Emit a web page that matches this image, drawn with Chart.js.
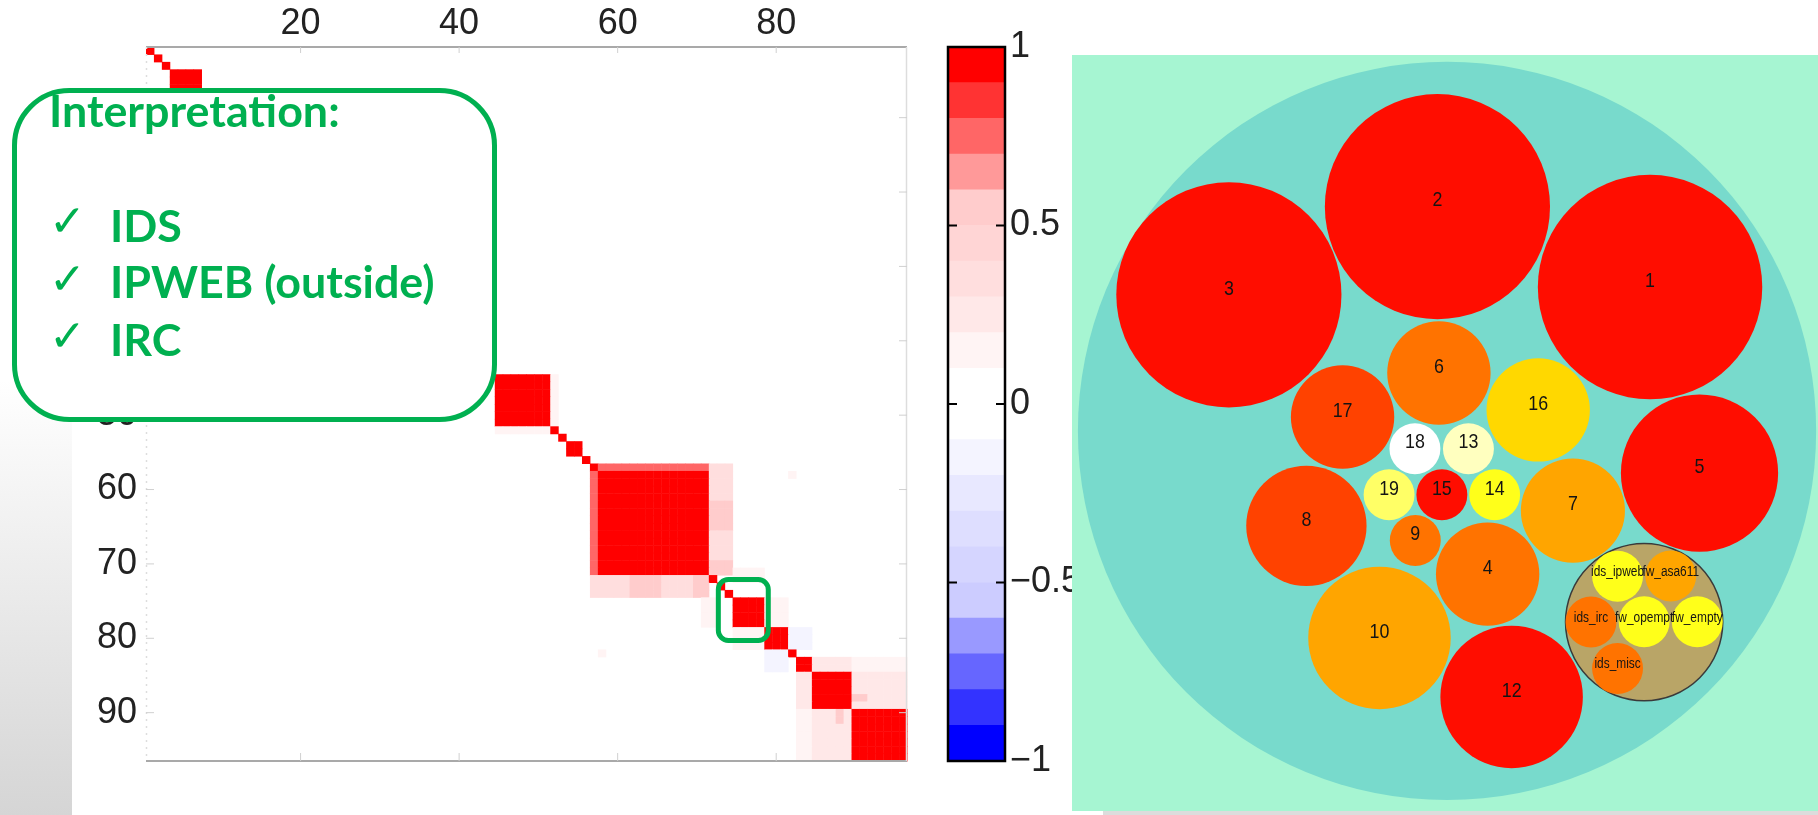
<!DOCTYPE html>
<html>
<head>
<meta charset="utf-8">
<script src="https://cdn.jsdelivr.net/npm/chart.js@4"></script>
<style>
  html, body { margin: 0; padding: 0; background: #ffffff; }
  #page { position: relative; width: 1818px; height: 815px; overflow: hidden; background: #ffffff; }
  #sideShade { position: absolute; left: 0; top: 380px; width: 72px; height: 435px;
               background: linear-gradient(#ffffff, #d5d5d5); }
  #bottomShade { position: absolute; left: 1103px; top: 811px; width: 715px; height: 4px; background: #dcdcdc; }
  canvas { position: absolute; }
  #heat { left: 0; top: 0; }
  #bar { left: 900px; top: 0; }
  #pack { left: 1072px; top: 55px; }
</style>
</head>
<body>
<div id="page">
  <div id="sideShade"></div>
  <div id="bottomShade"></div>
  <canvas id="heat" width="930" height="815"></canvas>
  <canvas id="bar" width="200" height="815"></canvas>
  <canvas id="pack" width="746" height="756"></canvas>
</div>
<script>
// ---------- correlation matrix (96 variables) ----------
const matrixSize = 96;
const xTickValues = [20, 40, 60, 80];
const yTickValues = [10, 20, 30, 40, 50, 60, 70, 80, 90];

// groups of strongly correlated variables along the diagonal: [first, last]
const groupFirst = [1, 2, 3, 4, 45, 52, 53, 54, 56, 57, 58, 72, 73, 74, 75, 79, 82, 83, 85, 90];
const groupLast  = [1, 2, 3, 7, 51, 52, 53, 55, 56, 57, 71, 72, 73, 74, 78, 81, 82, 84, 89, 96];
const groupCorr  = 0.95;

// off-diagonal patches (mirrored): rows r1..r2 against columns c1..c2
const patchR1 = [57, 72, 72, 72, 72, 72, 45, 58, 71, 75, 79, 83, 83, 85, 88];
const patchR2 = [57, 74, 74, 74, 74, 74, 51, 58, 72, 78, 81, 84, 84, 89, 88];
const patchC1 = [58, 57, 60, 62, 66, 70, 52, 82, 75, 79, 82, 85, 90, 90, 90];
const patchC2 = [71, 59, 61, 65, 69, 71, 52, 82, 78, 81, 84, 89, 96, 96, 91];
const patchVal = [0.78, 0.35, 0.33, 0.52, 0.3, 0.5, 0.15, 0.15, 0.15, 0.12, -0.12, 0.25, 0.15, 0.25, 0.5];

// highlighted group (variables 75-78): x from, x to, y from, y to
const highlightBox = [72.7, 79.0, 72.1, 80.3];

// colour key: 20 bands of width 0.1 from -1 to 1
const bandLow = [-1.0, -0.9, -0.8, -0.7, -0.6, -0.5, -0.4, -0.3, -0.2, -0.1,
                  0.0, 0.1, 0.2, 0.3, 0.4, 0.5, 0.6, 0.7, 0.8, 0.9];
const bandColors = ['#0000ff', '#3333ff', '#6666ff', '#9999ff', '#ccccff',
                    '#d5d5ff', '#dedeff', '#e8e8ff', '#f4f4ff', '#ffffff',
                    '#ffffff', '#fff4f4', '#ffe8e8', '#ffdede', '#ffd5d5',
                    '#ffcccc', '#ff9999', '#ff6666', '#ff3333', '#ff0000'];
const keyTickValues = [-1, -0.5, 0, 0.5, 1];

// ---------- circle packing of the variable clusters ----------
// positions and radii in units of the enclosing circle's radius / 100
const circleLabels = ['1', '2', '3', '4', '5', '6', '7', '8', '9', '10', '12', '13', '14', '15', '16', '17', '18', '19'];
const circleX = [55.0, -2.6, -59.1, 11.0, 68.4, -2.2, 34.1, -38.1, -8.6, -18.3, 17.5, 5.8, 12.9, -1.4, 24.7, -28.3, -8.7, -15.7];
const circleY = [39.0, 60.8, 36.9, -38.8, -11.4, 15.7, -21.6, -25.7, -29.7, -56.1, -72.1, -4.8, -17.3, -17.3, 5.7, 3.8, -4.8, -17.3];
const circleR = [30.4, 30.5, 30.5, 14.0, 21.3, 14.0, 14.1, 16.3, 6.9, 19.3, 19.3, 6.9, 6.9, 6.9, 14.0, 14.0, 6.9, 6.9];
const circleColors = ['#ff0d00', '#ff0d00', '#ff0d00', '#ff7300', '#ff0d00', '#ff7300', '#ffa500', '#ff4200', '#ff7300',
                      '#ffa500', '#ff0d00', '#ffffbf', '#ffff1a', '#ff0d00', '#ffd800', '#ff4200', '#ffffff', '#ffff66'];

const clusterX = [53.4], clusterY = [-51.8], clusterR = [21.3];
const memberLabels = ['ids_ipweb', 'fw_asa611', 'ids_irc', 'fw_opempt', 'fw_empty', 'ids_misc'];
const memberX = [46.2, 60.6, 39.0, 53.4, 67.8, 46.2];
const memberY = [-39.4, -39.3, -51.8, -51.7, -51.7, -64.4];
const memberR = [6.9, 6.9, 6.9, 6.9, 6.9, 6.9];
const memberColors = ['#ffff1a', '#ffa500', '#ff7300', '#ffff1a', '#ffff1a', '#ff7300'];

const outerX = [0], outerY = [0], outerR = [100];

// ---------- build the matrix ----------
const corr = [];
for (let i = 0; i < matrixSize; i++) { corr.push(new Array(matrixSize).fill(0)); corr[i][i] = 1; }
groupFirst.forEach((a, g) => {
  const b = groupLast[g];
  for (let i = a; i <= b; i++) for (let j = a; j <= b; j++) corr[i - 1][j - 1] = (i === j) ? 1 : groupCorr;
});
patchR1.forEach((r1, p) => {
  for (let i = r1; i <= patchR2[p]; i++)
    for (let j = patchC1[p]; j <= patchC2[p]; j++) {
      corr[i - 1][j - 1] = patchVal[p];
      corr[j - 1][i - 1] = patchVal[p];
    }
});

function bandColor(v) {
  for (let k = bandLow.length - 1; k >= 0; k--) if (v >= bandLow[k] - 1e-9) return bandColors[k];
  return bandColors[0];
}

const tickFont = { family: 'Liberation Sans, Arial, sans-serif', size: 36 };

// ---------- heat map ----------
const cellsPlugin = {
  id: 'cells',
  beforeDatasetsDraw(chart) {
    const { ctx } = chart, x = chart.scales.x, y = chart.scales.y;
    ctx.save();
    for (let r = 1; r <= matrixSize; r++) {
      for (let c = 1; c <= matrixSize; c++) {
        const col = bandColor(corr[r - 1][c - 1]);
        if (col === '#ffffff') continue;
        const x0 = x.getPixelForValue(c - 0.5), x1 = x.getPixelForValue(c + 0.5);
        const y0 = y.getPixelForValue(r - 0.5), y1 = y.getPixelForValue(r + 0.5);
        ctx.fillStyle = col;
        ctx.fillRect(Math.min(x0, x1), Math.min(y0, y1), Math.abs(x1 - x0) + 0.5, Math.abs(y1 - y0) + 0.5);
      }
    }
    ctx.restore();
  },
  afterDatasetsDraw(chart) {
    const { ctx, chartArea: a } = chart, x = chart.scales.x, y = chart.scales.y;
    ctx.save();
    // frame
    ctx.strokeStyle = '#a9a9a9'; ctx.lineWidth = 2;
    ctx.beginPath(); ctx.moveTo(a.left, a.top); ctx.lineTo(a.right, a.top);
    ctx.moveTo(a.left, a.bottom); ctx.lineTo(a.right, a.bottom); ctx.stroke();
    ctx.strokeStyle = '#dddddd'; ctx.lineWidth = 1.5;
    ctx.beginPath(); ctx.moveTo(a.right - 0.5, a.top); ctx.lineTo(a.right - 0.5, a.bottom); ctx.stroke();
    ctx.setLineDash([2, 5]);
    ctx.beginPath(); ctx.moveTo(a.left + 0.5, a.top); ctx.lineTo(a.left + 0.5, a.bottom); ctx.stroke();
    ctx.setLineDash([]);
    // inner tick marks
    ctx.strokeStyle = '#d0d0d0'; ctx.lineWidth = 1;
    ctx.beginPath();
    yTickValues.forEach(v => {
      const py = y.getPixelForValue(v);
      ctx.moveTo(a.left, py); ctx.lineTo(a.left + 8, py);
      ctx.moveTo(a.right, py); ctx.lineTo(a.right - 8, py);
    });
    xTickValues.forEach(v => {
      const px = x.getPixelForValue(v);
      ctx.moveTo(px, a.top); ctx.lineTo(px, a.top + 6);
      ctx.moveTo(px, a.bottom); ctx.lineTo(px, a.bottom - 8);
    });
    ctx.stroke();
    // highlighted group
    const hx0 = x.getPixelForValue(highlightBox[0]), hx1 = x.getPixelForValue(highlightBox[1]);
    const hy0 = y.getPixelForValue(highlightBox[2]), hy1 = y.getPixelForValue(highlightBox[3]);
    ctx.beginPath();
    ctx.roundRect(hx0, hy0, hx1 - hx0, hy1 - hy0, 10);
    ctx.lineWidth = 5; ctx.strokeStyle = '#00b050'; ctx.stroke();
    ctx.restore();
  },
  afterDraw(chart) {
    // interpretation note laid over the upper-left part of the matrix
    const ctx = chart.ctx;
    const green = '#00b050';
    ctx.save();
    ctx.beginPath();
    ctx.roundRect(14.5, 90.5, 480, 329, 55);
    ctx.fillStyle = '#ffffff'; ctx.fill();
    ctx.lineWidth = 5; ctx.strokeStyle = green; ctx.stroke();
    ctx.fillStyle = green;
    ctx.textBaseline = 'alphabetic'; ctx.textAlign = 'left';
    ctx.font = 'bold 100px Lato, "Open Sans", sans-serif';
    const size = 100 * 291 / ctx.measureText('Interpretation:').width;
    ctx.font = `bold ${size.toFixed(1)}px Lato, "Open Sans", sans-serif`;
    ctx.fillText('Interpretation:', 49, 127);
    ctx.fillText('IDS', 110, 242);
    ctx.fillText('IPWEB (outside)', 110, 298);
    ctx.fillText('IRC', 110, 356);
    ctx.font = '44px "DejaVu Sans", sans-serif';
    ctx.fillText('\u2713', 49, 236);
    ctx.fillText('\u2713', 49, 294);
    ctx.fillText('\u2713', 49, 351);
    ctx.restore();
  }
};

new Chart(document.getElementById('heat'), {
  type: 'scatter',
  data: { datasets: [] },
  options: {
    responsive: false, animation: false, events: [],
    layout: { padding: { left: 0, top: 0, right: 23, bottom: 54 } },
    plugins: { legend: { display: false }, tooltip: { enabled: false } },
    scales: {
      x: {
        type: 'linear', position: 'top', min: 0.5, max: 96.5,
        grid: { display: false, drawTicks: false }, border: { display: false },
        afterBuildTicks: s => { s.ticks = xTickValues.map(v => ({ value: v })); },
        afterFit: s => { s.height = 47; },
        ticks: { font: tickFont, color: '#222222', padding: 1, maxRotation: 0, autoSkip: false }
      },
      y: {
        type: 'linear', position: 'left', reverse: true, min: 0.5, max: 96.5,
        grid: { display: false, drawTicks: false }, border: { display: false },
        afterBuildTicks: s => { s.ticks = yTickValues.map(v => ({ value: v })); },
        afterFit: s => { s.width = 146; },
        ticks: { font: tickFont, color: '#222222', padding: 9, autoSkip: false }
      }
    }
  },
  plugins: [cellsPlugin]
});

// ---------- colour key ----------
const keyFramePlugin = {
  id: 'keyFrame',
  afterDatasetsDraw(chart) {
    const { ctx, chartArea: a } = chart, y = chart.scales.y;
    ctx.save();
    ctx.strokeStyle = '#000000'; ctx.lineWidth = 2.5;
    ctx.strokeRect(a.left, a.top, a.right - a.left, a.bottom - a.top);
    ctx.lineWidth = 2;
    ctx.beginPath();
    keyTickValues.slice(1, -1).forEach(v => {
      const py = y.getPixelForValue(v);
      ctx.moveTo(a.left, py); ctx.lineTo(a.left + 9, py);
      ctx.moveTo(a.right, py); ctx.lineTo(a.right - 9, py);
    });
    ctx.stroke();
    ctx.restore();
  }
};

new Chart(document.getElementById('bar'), {
  type: 'bar',
  data: {
    labels: [''],
    datasets: bandLow.map((lo, k) => ({
      data: [[lo, k + 1 < bandLow.length ? bandLow[k + 1] : keyTickValues[keyTickValues.length - 1]]],
      backgroundColor: bandColors[k],
      grouped: false, barPercentage: 1, categoryPercentage: 1, borderWidth: 0
    }))
  },
  options: {
    responsive: false, animation: false, events: [],
    layout: { padding: { left: 48, top: 47, right: 0, bottom: 54 } },
    plugins: { legend: { display: false }, tooltip: { enabled: false } },
    scales: {
      x: { display: false },
      y: {
        position: 'right', min: -1, max: 1,
        grid: { display: false, drawTicks: false }, border: { display: false },
        afterBuildTicks: s => { s.ticks = keyTickValues.map(v => ({ value: v })); },
        afterFit: s => { s.width = 95; },
        ticks: {
          font: tickFont, color: '#222222', padding: 5, autoSkip: false,
          callback: v => String(v).replace('-', '\u2212')
        }
      }
    }
  },
  plugins: [keyFramePlugin]
});

// ---------- circle packing ----------
// radius option: converts the data-unit radius into pixels through the x scale
const pxRadius = ctx => {
  const s = ctx.chart.scales.x;
  const item = ctx.dataset && ctx.dataset.data ? ctx.dataset.data[ctx.dataIndex] : null;
  if (!s || !item) return 0;
  const r = Math.abs(s.getPixelForValue(item.size) - s.getPixelForValue(0));
  return isFinite(r) ? r : 0;
};
const toPoints = (xs, ys, rs) => xs.map((v, i) => ({ x: v, y: ys[i], size: rs[i] }));

const packBackground = {
  id: 'packBackground',
  beforeDraw(chart) {
    const { ctx, width, height } = chart;
    ctx.save(); ctx.fillStyle = '#a6f5d2'; ctx.fillRect(0, 0, width, height); ctx.restore();
  }
};
const packLabels = {
  id: 'packLabels',
  afterDatasetsDraw(chart) {
    const ctx = chart.ctx;
    const sets = [[2, circleLabels, 21, 6], [0, memberLabels, 14, 4]];
    ctx.save();
    ctx.fillStyle = '#141414'; ctx.textAlign = 'center'; ctx.textBaseline = 'middle';
    sets.forEach(([di, labels, fs, lift]) => {
      ctx.font = `${fs}px "Liberation Sans", Arial, sans-serif`;
      chart.getDatasetMeta(di).data.forEach((pt, k) => {
        ctx.save();
        ctx.translate(pt.x, pt.y - lift);
        ctx.scale(0.85, 1);
        ctx.fillText(labels[k], 0, 0);
        ctx.restore();
      });
    });
    ctx.restore();
  }
};

const packSet = (data, fill, order, border, bw) => ({
  data, order,
  backgroundColor: fill, pointBackgroundColor: fill,
  pointBorderColor: border || 'rgba(0,0,0,0)', pointBorderWidth: bw || 0,
  pointRadius: pxRadius, pointHoverRadius: pxRadius, pointStyle: 'circle',
  showLine: false, clip: false
});

new Chart(document.getElementById('pack'), {
  type: 'scatter',
  data: {
    datasets: [
      packSet(toPoints(memberX, memberY, memberR), memberColors, 1),
      packSet(toPoints(clusterX, clusterY, clusterR), '#b9a567', 2, '#3a3a3a', 1.5),
      packSet(toPoints(circleX, circleY, circleR), circleColors, 3),
      packSet(toPoints(outerX, outerY, outerR), '#78dacc', 4)
    ]
  },
  options: {
    responsive: false, animation: false, events: [],
    layout: { padding: 0, autoPadding: false },
    plugins: { legend: { display: false }, tooltip: { enabled: false } },
    scales: {
      x: { type: 'linear', display: false, min: -101.6, max: 100.5 },
      y: { type: 'linear', display: false, min: -103.0, max: 101.9 }
    }
  },
  plugins: [packBackground, packLabels]
});
</script>
</body>
</html>
